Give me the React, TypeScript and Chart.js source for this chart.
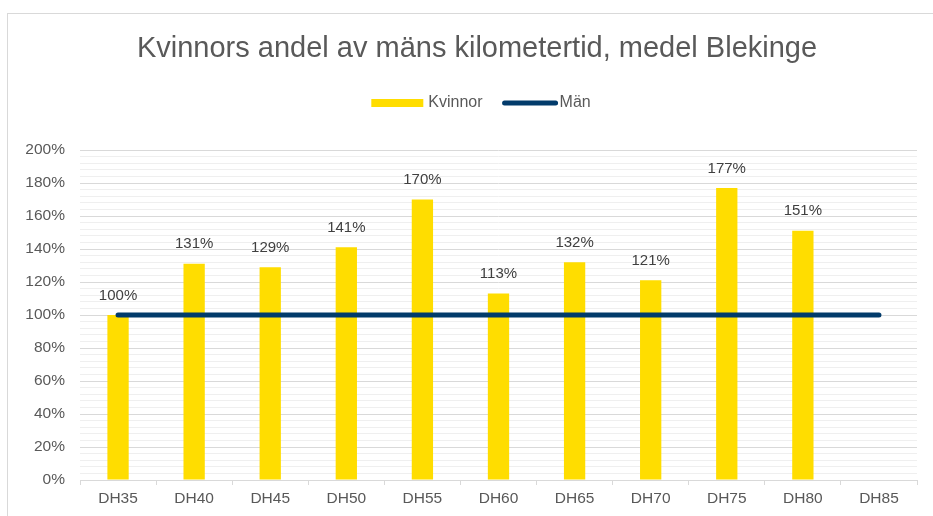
import React, { useEffect, useRef } from "react";
import { Chart, registerables } from "chart.js";

Chart.register(...registerables);

const TITLE = "Kvinnors andel av mäns kilometertid, medel Blekinge";
const categories = ["DH35", "DH40", "DH45", "DH50", "DH55", "DH60", "DH65", "DH70", "DH75", "DH80", "DH85"];
const kvinnor: (number | null)[] = [100, 131, 129, 141, 170, 113, 132, 121, 177, 151, null];
const man: number[] = [100, 100, 100, 100, 100, 100, 100, 100, 100, 100, 100];
const yMin = 0;
const yMax = 200;
const yMinorStep = 4;
const yMajorStep = 20;

const FONT = "'Liberation Sans', Arial, sans-serif";
const YELLOW = "#FFDD00";
const NAVY = "#023b6b";
const TEXT = "#595959";

const overlayPlugin = {
  id: "overlay",
  afterDraw(chart: any) {
    const ctx = chart.ctx;
    const cx = 477;
    ctx.save();
    // title
    ctx.fillStyle = TEXT;
    ctx.font = `29px ${FONT}`;
    ctx.textAlign = "center";
    ctx.textBaseline = "middle";
    ctx.fillText(TITLE, cx, 49);

    // legend
    ctx.font = `16px ${FONT}`;
    const ly = 103;
    const t1 = ctx.measureText("Kvinnor").width;
    const t2 = ctx.measureText("Män").width;
    const boxW = 52, gap1 = 5, gap2 = 20, lineW = 55, gap3 = 2;
    const total = boxW + gap1 + t1 + gap2 + lineW + gap3 + t2;
    let x = cx + 4 - total / 2;
    ctx.fillStyle = YELLOW;
    ctx.fillRect(x, ly - 4, boxW, 8);
    x += boxW + gap1;
    ctx.fillStyle = TEXT;
    ctx.textAlign = "left";
    ctx.fillText("Kvinnor", x, ly);
    x += t1 + gap2;
    ctx.strokeStyle = NAVY;
    ctx.lineWidth = 5;
    ctx.lineCap = "round";
    ctx.beginPath();
    ctx.moveTo(x + 2, ly);
    ctx.lineTo(x + lineW - 2, ly);
    ctx.stroke();
    x += lineW + gap3;
    ctx.fillStyle = TEXT;
    ctx.fillText("Män", x, ly);

    // data labels
    const meta = chart.getDatasetMeta(0);
    ctx.font = `15px ${FONT}`;
    ctx.fillStyle = "#404040";
    ctx.textAlign = "center";
    ctx.textBaseline = "bottom";
    meta.data.forEach((el: any, i: number) => {
      const v = kvinnor[i];
      if (v == null) return;
      ctx.fillText(`${v}%`, el.x, el.y - 12);
    });
    ctx.restore();
  },
};

export default function App() {
  const ref = useRef<HTMLCanvasElement>(null);
  useEffect(() => {
    if (!ref.current) return;
    const chart = new Chart(ref.current, {
      type: "bar",
      data: {
        labels: categories,
        datasets: [
          {
            type: "bar",
            label: "Kvinnor",
            data: kvinnor,
            backgroundColor: YELLOW,
            barPercentage: 0.28,
            categoryPercentage: 1,
            order: 2,
          },
          {
            type: "line",
            label: "Män",
            data: man,
            borderColor: NAVY,
            backgroundColor: NAVY,
            borderWidth: 5,
            borderCapStyle: "round",
            pointRadius: 0,
            pointHoverRadius: 0,
            fill: false,
            order: 1,
          } as any,
        ],
      },
      options: {
        animation: false,
        responsive: false,
        events: [],
        layout: { padding: { left: 0, right: 16, top: 150, bottom: 0 } },
        plugins: {
          legend: { display: false },
          title: { display: false },
          tooltip: { enabled: false },
        },
        scales: {
          x: {
            afterFit(scale: any) {
              scale.height = 36;
            },
            grid: {
              display: true,
              drawOnChartArea: false,
              drawTicks: true,
              tickLength: 5,
              color: "#d9d9d9",
              offset: true,
            },
            border: { display: true, color: "#d9d9d9", width: 1 },
            ticks: {
              color: TEXT,
              font: { family: FONT, size: 15.5 },
              padding: 4,
            },
          },
          y: {
            min: yMin,
            max: yMax,
            afterFit(scale: any) {
              scale.width = 80;
            },
            ticks: {
              stepSize: yMinorStep,
              autoSkip: false,
              color: TEXT,
              font: { family: FONT, size: 15.5 },
              padding: 15,
              callback: (v: any) => (Number(v) % yMajorStep === 0 ? `${v}%` : ""),
            },
            grid: {
              drawTicks: false,
              color: (c: any) =>
                c.tick && c.tick.value % yMajorStep === 0 ? "#d9d9d9" : "#efefef",
              lineWidth: 1,
            },
            border: { display: false },
          },
        },
      },
      plugins: [overlayPlugin],
    });
    return () => chart.destroy();
  }, []);

  return (
    <div
      style={{
        position: "fixed",
        left: 0,
        top: 0,
        width: 933,
        height: 516,
        overflow: "hidden",
        background: "#fff",
      }}
    >
      <div
        style={{
          position: "absolute",
          left: 7,
          top: 13,
          width: 1000,
          height: 600,
          border: "1.5px solid #d9d9d9",
          boxSizing: "border-box",
        }}
      />
      <canvas
        ref={ref}
        width={933}
        height={516}
        style={{ position: "absolute", left: 0, top: 0, width: 933, height: 516 }}
      />
    </div>
  );
}
